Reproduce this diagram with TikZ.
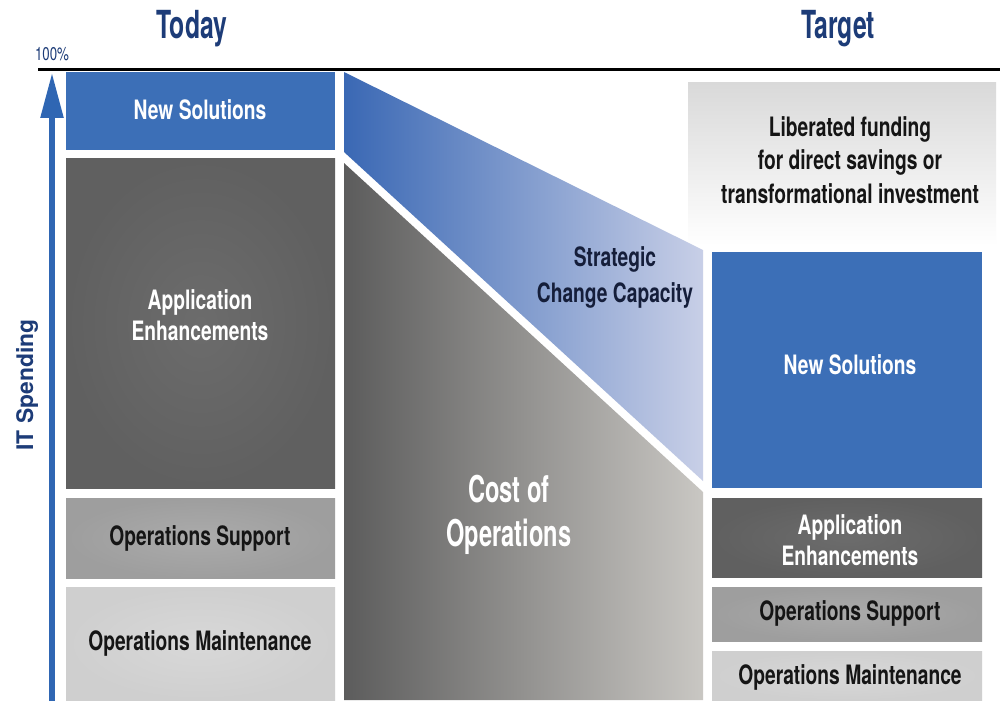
\documentclass[tikz,border=0pt]{standalone}
\usepackage{fontspec}
\newfontfamily\cond[FakeStretch=0.72]{TeX Gyre Heros}
\newfontfamily\condn[FakeStretch=0.64]{TeX Gyre Heros}
\newfontfamily\heros{TeX Gyre Heros}
\usetikzlibrary{arrows.meta}
\definecolor{nsblue}{HTML}{3C6FB7}
\definecolor{aegray}{HTML}{606060}
\definecolor{aegrayin}{HTML}{6C6C6C}
\definecolor{osgray}{HTML}{9E9E9E}
\definecolor{osgrayin}{HTML}{ABABAB}
\definecolor{omgray}{HTML}{CFCFCF}
\definecolor{omgrayin}{HTML}{D8D8D8}
\definecolor{navy}{HTML}{1D3C78}
\definecolor{arrowblue}{HTML}{2F66B3}
\definecolor{costdark}{HTML}{5C5C5C}
\definecolor{costlight}{HTML}{C9C7C3}
\definecolor{stratdark}{HTML}{3A68B4}
\definecolor{stratmid}{HTML}{6F8FCB}
\definecolor{stratlight}{HTML}{C8CFE7}
\definecolor{libgray}{HTML}{D9D9D9}
\definecolor{darktext}{HTML}{151515}
\definecolor{strattext}{HTML}{151E3A}
\tikzset{
  lbl/.style={font=\cond\bfseries\fontsize{15.2}{18}\selectfont, align=center, inner sep=0pt},
  wlbl/.style={lbl, text=white},
  dlbl/.style={lbl, text=darktext},
  title/.style={font=\condn\bfseries\fontsize{22}{26}\selectfont, text=navy, inner sep=0pt},
}
\begin{document}
\begin{tikzpicture}[x=0.02cm,y=-0.02cm]
\useasboundingbox (0,0) rectangle (1000,701);
\fill[white] (0,0) rectangle (1000,701);
% liberated funding background
\shade[top color=libgray, bottom color=white] (688,82) rectangle (996,246);
% middle shapes
\shade[left color=stratdark, middle color=stratmid, right color=stratlight] (344,72) -- (703,250) -- (703,481) -- (344,152) -- cycle;
\shade[left color=costdark, right color=costlight] (344,163) -- (703,492) -- (703,700) -- (344,700) -- cycle;
% left column
\fill[nsblue] (66,72) rectangle (335,150);
\shade[inner color=aegrayin, outer color=aegray] (66,158) rectangle (335,488);
\shade[inner color=osgrayin, outer color=osgray] (66,498) rectangle (335,578);
\shade[inner color=omgrayin, outer color=omgray] (66,587) rectangle (335,700);
% right column
\fill[nsblue] (712,252) rectangle (982,488);
\shade[inner color=aegrayin, outer color=aegray] (712,498) rectangle (982,577);
\shade[inner color=osgrayin, outer color=osgray] (712,587) rectangle (982,641);
\shade[inner color=omgrayin, outer color=omgray] (712,651) rectangle (982,700);
% top line
\coordinate (lineL) at (38,69);
\coordinate (lineR) at (1000,69);
\draw[line width=0.06cm, black] (lineL) -- (lineR);
% arrow
\coordinate (arrowbot) at (52,701);
\coordinate (arrowtop) at (52,73);
\draw[arrowblue, line width=0.11cm, -{Triangle[length=0.9cm,width=0.44cm]}] (arrowbot) -- (arrowtop);
% titles
\node[title] (today) at (192,29) {Today};
\node[title] (target) at (838,29) {Target};
\node[font=\cond\fontsize{10.5}{12}\selectfont, text=navy, inner sep=0pt] (pct) at (52,54) {100\%};
\node[font=\heros\bfseries\fontsize{13}{15}\selectfont, text=navy, rotate=90, inner sep=0pt] (itsp) at (27,385) {IT Spending};
% left labels
\node[wlbl] (lns) at (200,110) {New Solutions};
\node[wlbl] (lae) at (200,315) {Application\\Enhancements};
\node[dlbl] (los) at (200,538) {Operations Support};
\node[dlbl] (lom) at (200,643) {Operations Maintenance};
% middle labels
\node[wlbl, font=\condn\bfseries\fontsize{21}{25}\selectfont] (cost) at (509,515) {Cost of\\Operations};
\node[lbl, text=strattext, font=\cond\bfseries\fontsize{15.2}{20.5}\selectfont] (strat) at (615,277) {Strategic\\Change Capacity};
% right labels
\node[dlbl, font=\cond\bfseries\fontsize{15.2}{19}\selectfont] (lib) at (850,160) {Liberated funding\\for direct savings or\\transformational investment};
\node[wlbl] (rns) at (850,365) {New Solutions};
\node[wlbl] (rae) at (850,540) {Application\\Enhancements};
\node[dlbl] (ros) at (850,613) {Operations Support};
\node[dlbl] (rom) at (850,677) {Operations Maintenance};
\end{tikzpicture}
\end{document}
